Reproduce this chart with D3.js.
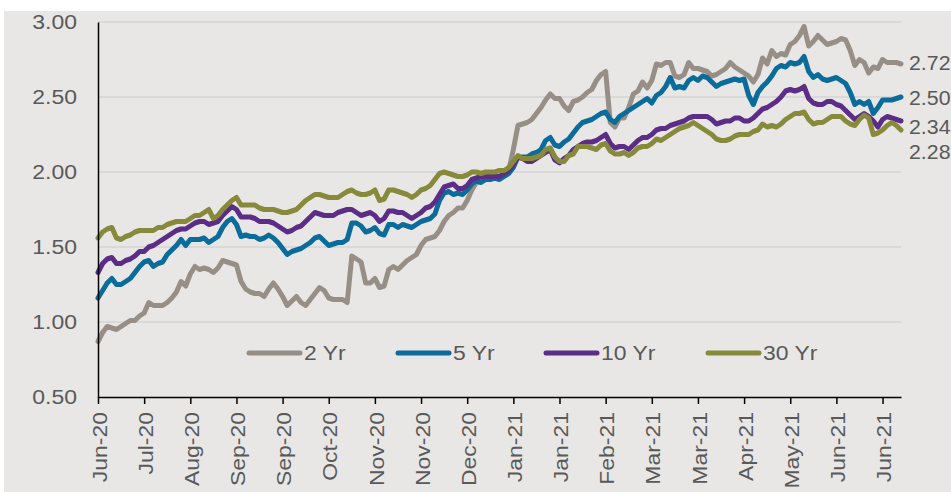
<!DOCTYPE html>
<html>
<head>
<meta charset="utf-8">
<script src="https://cdn.jsdelivr.net/npm/d3@7/dist/d3.min.js"></script>
<style>
  body { margin: 0; background: #fff; }
  text { font-family: "Liberation Sans", Arial, sans-serif; fill: #595959; }
</style>
</head>
<body>
<div id="chart"></div>
<script>

// x axis labels, one every 10 observations
var tickLabels = ['Jun-20', 'Jul-20', 'Aug-20', 'Sep-20', 'Sep-20', 'Oct-20', 'Nov-20', 'Nov-20', 'Dec-20',
  'Jan-21', 'Jan-21', 'Feb-21', 'Mar-21', 'Mar-21', 'Apr-21', 'May-21', 'Jun-21', 'Jun-21'];
var tickEvery = 10;

var yTicks = [0.5, 1.0, 1.5, 2.0, 2.5, 3.0];

var seriesNames = ['2 Yr', '5 Yr', '10 Yr', '30 Yr'];

var yr2 = [
  0.87, 0.93, 0.97, 0.96, 0.95, 0.97, 0.99, 1.01, 1.01, 1.04,
  1.06, 1.13, 1.11, 1.11, 1.11, 1.13, 1.16, 1.20, 1.27, 1.24,
  1.32, 1.37, 1.35, 1.36, 1.35, 1.33, 1.36, 1.41, 1.40, 1.39,
  1.38, 1.27, 1.22, 1.20, 1.19, 1.19, 1.17, 1.22, 1.26, 1.22,
  1.17, 1.11, 1.14, 1.17, 1.13, 1.11, 1.15, 1.19, 1.23, 1.21,
  1.16, 1.15, 1.15, 1.15, 1.13, 1.44, 1.42, 1.40, 1.26, 1.26,
  1.29, 1.23, 1.24, 1.35, 1.37, 1.35, 1.38, 1.41, 1.43, 1.45,
  1.51, 1.55, 1.56, 1.57, 1.61, 1.67, 1.71, 1.73, 1.76, 1.76,
  1.81, 1.88, 1.93, 1.94, 1.95, 1.96, 1.97, 1.97, 1.99, 2.01,
  2.15, 2.31, 2.32, 2.33, 2.35, 2.39, 2.43, 2.48, 2.52, 2.49,
  2.49, 2.44, 2.41, 2.47, 2.48, 2.50, 2.53, 2.55, 2.61, 2.65,
  2.67, 2.33, 2.30, 2.36, 2.36, 2.43, 2.52, 2.54, 2.60, 2.56,
  2.61, 2.72, 2.71, 2.73, 2.73, 2.64, 2.63, 2.65, 2.73, 2.69,
  2.69, 2.68, 2.67, 2.64, 2.65, 2.67, 2.69, 2.73, 2.70, 2.68,
  2.66, 2.64, 2.60, 2.65, 2.76, 2.72, 2.81, 2.77, 2.79, 2.78,
  2.85, 2.87, 2.91, 2.97, 2.84, 2.87, 2.91, 2.88, 2.85, 2.86,
  2.87, 2.89, 2.88, 2.81, 2.71, 2.75, 2.73, 2.66, 2.70, 2.69,
  2.75, 2.73, 2.73, 2.73, 2.72
];

var yr5 = [
  1.16, 1.21, 1.26, 1.29, 1.25, 1.25, 1.27, 1.29, 1.33, 1.37,
  1.40, 1.41, 1.37, 1.39, 1.40, 1.45, 1.48, 1.51, 1.55, 1.51,
  1.55, 1.55, 1.55, 1.56, 1.53, 1.55, 1.57, 1.63, 1.67, 1.69,
  1.65, 1.57, 1.58, 1.57, 1.57, 1.55, 1.56, 1.58, 1.56, 1.53,
  1.49, 1.45, 1.47, 1.48, 1.49, 1.51, 1.53, 1.56, 1.57, 1.54,
  1.51, 1.52, 1.53, 1.53, 1.55, 1.66, 1.66, 1.64, 1.60, 1.61,
  1.63, 1.59, 1.58, 1.65, 1.65, 1.63, 1.65, 1.64, 1.63, 1.65,
  1.67, 1.68, 1.69, 1.72, 1.81, 1.86, 1.87, 1.85, 1.86, 1.85,
  1.88, 1.92, 1.94, 1.93, 1.95, 1.95, 1.96, 1.95, 1.97, 1.99,
  2.03, 2.10, 2.10, 2.10, 2.12, 2.13, 2.15, 2.21, 2.23, 2.18,
  2.17, 2.20, 2.22, 2.26, 2.30, 2.33, 2.34, 2.35, 2.37, 2.39,
  2.40, 2.35, 2.33, 2.37, 2.39, 2.41, 2.43, 2.45, 2.47, 2.49,
  2.46, 2.51, 2.53, 2.57, 2.63, 2.56, 2.57, 2.56, 2.61, 2.63,
  2.61, 2.64, 2.63, 2.60, 2.57, 2.59, 2.60, 2.61, 2.62, 2.61,
  2.62, 2.51, 2.45, 2.53, 2.57, 2.60, 2.64, 2.69, 2.71, 2.70,
  2.73, 2.72, 2.73, 2.77, 2.67, 2.63, 2.65, 2.62, 2.61, 2.62,
  2.63, 2.61, 2.59, 2.53, 2.45, 2.47, 2.45, 2.47, 2.39, 2.43,
  2.48, 2.48, 2.48, 2.49, 2.50
];

var yr10 = [
  1.33, 1.39, 1.42, 1.43, 1.39, 1.39, 1.41, 1.42, 1.44, 1.47,
  1.47, 1.50, 1.51, 1.53, 1.55, 1.57, 1.59, 1.61, 1.62, 1.62,
  1.64, 1.66, 1.67, 1.67, 1.65, 1.66, 1.67, 1.71, 1.74, 1.77,
  1.75, 1.70, 1.70, 1.70, 1.69, 1.67, 1.67, 1.67, 1.66, 1.64,
  1.62, 1.60, 1.61, 1.63, 1.64, 1.67, 1.70, 1.73, 1.72, 1.71,
  1.71, 1.71, 1.73, 1.74, 1.75, 1.75, 1.73, 1.71, 1.72, 1.73,
  1.71, 1.67, 1.69, 1.74, 1.74, 1.73, 1.73, 1.71, 1.69, 1.71,
  1.73, 1.76, 1.77, 1.80, 1.85, 1.90, 1.91, 1.92, 1.89, 1.89,
  1.91, 1.95, 1.96, 1.97, 1.97, 1.97, 1.97, 1.97, 1.99, 2.01,
  2.05, 2.10, 2.09, 2.07, 2.07, 2.09, 2.11, 2.13, 2.15, 2.08,
  2.06, 2.09, 2.11, 2.15, 2.17, 2.19, 2.20, 2.20, 2.21, 2.23,
  2.25, 2.19, 2.16, 2.17, 2.17, 2.15, 2.18, 2.21, 2.23, 2.23,
  2.25, 2.28, 2.29, 2.29, 2.31, 2.32, 2.33, 2.34, 2.36, 2.37,
  2.37, 2.37, 2.37, 2.35, 2.32, 2.33, 2.34, 2.34, 2.36, 2.36,
  2.34, 2.34, 2.36, 2.39, 2.42, 2.43, 2.45, 2.47, 2.50, 2.54,
  2.55, 2.54, 2.55, 2.57, 2.49, 2.46, 2.45, 2.45, 2.47, 2.47,
  2.45, 2.44, 2.41, 2.38, 2.35, 2.37, 2.39, 2.37, 2.34, 2.30,
  2.35, 2.37, 2.36, 2.35, 2.34
];

var yr30 = [
  1.56, 1.60, 1.62, 1.63, 1.56, 1.55, 1.57, 1.58, 1.60, 1.61,
  1.61, 1.61, 1.61, 1.63, 1.63, 1.65, 1.66, 1.67, 1.67, 1.67,
  1.69, 1.71, 1.71, 1.73, 1.75, 1.69, 1.71, 1.75, 1.78, 1.81,
  1.83, 1.78, 1.78, 1.78, 1.78, 1.76, 1.75, 1.75, 1.75, 1.74,
  1.73, 1.73, 1.74, 1.75, 1.78, 1.81, 1.83, 1.85, 1.85, 1.84,
  1.83, 1.83, 1.83, 1.85, 1.87, 1.88, 1.86, 1.85, 1.85, 1.86,
  1.88, 1.81, 1.82, 1.88, 1.88, 1.87, 1.86, 1.85, 1.83, 1.85,
  1.88, 1.89, 1.91, 1.95, 1.99, 2.00, 1.99, 1.98, 1.97, 1.97,
  1.98, 2.00, 2.00, 1.99, 2.00, 2.00, 2.00, 2.01, 2.01, 2.03,
  2.07, 2.11, 2.09, 2.09, 2.09, 2.10, 2.11, 2.15, 2.16, 2.10,
  2.07, 2.07, 2.11, 2.12, 2.17, 2.17, 2.17, 2.16, 2.15, 2.18,
  2.19, 2.14, 2.12, 2.12, 2.13, 2.11, 2.13, 2.16, 2.17, 2.17,
  2.19, 2.22, 2.21, 2.23, 2.25, 2.27, 2.29, 2.30, 2.31, 2.33,
  2.31, 2.29, 2.27, 2.25, 2.22, 2.21, 2.21, 2.22, 2.24, 2.25,
  2.25, 2.25, 2.27, 2.28, 2.32, 2.30, 2.31, 2.30, 2.32, 2.35,
  2.37, 2.39, 2.39, 2.40, 2.35, 2.32, 2.33, 2.33, 2.35, 2.37,
  2.37, 2.37, 2.34, 2.32, 2.31, 2.35, 2.38, 2.36, 2.25, 2.26,
  2.28, 2.31, 2.33, 2.31, 2.28
];

var colors = ['#978f86', '#0b6c9c', '#5b2d86', '#868a3a'];

var margin = { top: 22, left: 98 };
var width = 803;
var height = 375;

// the original's lettering is a little wider than Arial
var stretch = 'scale(1.12,1)';

var svg = d3.select('#chart')
  .append('svg')
    .attr('width', 951)
    .attr('height', 492);

// grey panel behind everything
svg.append('rect')
    .attr('x', 4)
    .attr('y', 11)
    .attr('width', 947)
    .attr('height', 481)
    .attr('fill', '#e8e7e6');

var g = svg.append('g')
    .attr('transform', 'translate(' + margin.left + ',' + margin.top + ')');

var data = [yr2, yr5, yr10, yr30];
var n = yr2.length;

var x = d3.scaleLinear()
    .domain([0, n - 1])
    .range([0, width]);

var y = d3.scaleLinear()
    .domain([0.5, 3])
    .range([height, 0]);

// gridlines
g.selectAll('.grid')
    .data(yTicks.slice(1))
    .enter()
  .append('line')
    .attr('x1', 0)
    .attr('x2', width)
    .attr('y1', function (d) { return y(d); })
    .attr('y2', function (d) { return y(d); })
    .attr('stroke', '#d6d5d4')
    .attr('stroke-width', 1.5);

var line = d3.line()
    .x(function (d, i) { return x(i); })
    .y(function (d) { return y(d); });

g.selectAll('.series')
    .data(data)
    .enter()
  .append('path')
    .attr('fill', 'none')
    .attr('stroke', function (d, i) { return colors[i]; })
    .attr('stroke-width', 5)
    .attr('stroke-linejoin', 'round')
    .attr('stroke-linecap', 'round')
    .attr('d', line);

// x axis
var xAxis = g.append('g')
    .attr('transform', 'translate(0,' + height + ')')
    .call(d3.axisBottom(x)
      .tickValues(tickLabels.map(function (d, i) { return i * tickEvery; }))
      .tickFormat(function (d, i) { return tickLabels[i]; })
      .tickSize(7)
      .tickSizeOuter(0));

xAxis.select('.domain').attr('stroke', '#000').attr('stroke-width', 1.5);
xAxis.selectAll('.tick line').attr('stroke', '#000').attr('stroke-width', 1.5);
xAxis.selectAll('.tick text')
    .attr('font-size', 20.5)
    .attr('fill', '#595959')
    .attr('text-anchor', 'end')
    .attr('transform', 'translate(1,15) rotate(-90) ' + stretch)
    .attr('x', 0)
    .attr('y', 0)
    .attr('dy', '0.35em');

// y axis
var yAxis = g.append('g')
    .call(d3.axisLeft(y)
      .tickValues(yTicks)
      .tickFormat(d3.format('.2f'))
      .tickSize(0));

yAxis.select('.domain').attr('stroke', '#000').attr('stroke-width', 1.5);
yAxis.selectAll('.tick text')
    .attr('font-size', 20.5)
    .attr('fill', '#595959')
    .attr('x', 0)
    .attr('transform', 'translate(-21,0) ' + stretch);

// end-of-line value labels, nudged apart like the original
var labelNudge = [-1, 1, 6, 22];
g.selectAll('.endlabel')
    .data(data)
    .enter()
  .append('text')
    .attr('transform', function (d, i) {
      return 'translate(' + (width + 8) + ',' + (y(d[d.length - 1]) + labelNudge[i]) + ') scale(1.04,1)';
    })
    .attr('dy', '0.35em')
    .attr('font-size', 20.5)
    .text(function (d) { return d3.format('.2f')(d[d.length - 1]); });

// legend
var legendX = [247, 396, 544, 706];
var legend = svg.selectAll('.legend')
    .data(seriesNames)
    .enter()
  .append('g')
    .attr('transform', function (d, i) { return 'translate(' + legendX[i] + ',353)'; });

legend.append('line')
    .attr('x1', 2)
    .attr('x2', 53)
    .attr('stroke', function (d, i) { return colors[i]; })
    .attr('stroke-width', 5)
    .attr('stroke-linecap', 'round');

legend.append('text')
    .attr('transform', 'translate(57,0) ' + stretch)
    .attr('dy', '0.35em')
    .attr('font-size', 20.5)
    .text(function (d) { return d; });

</script>
</body>
</html>
